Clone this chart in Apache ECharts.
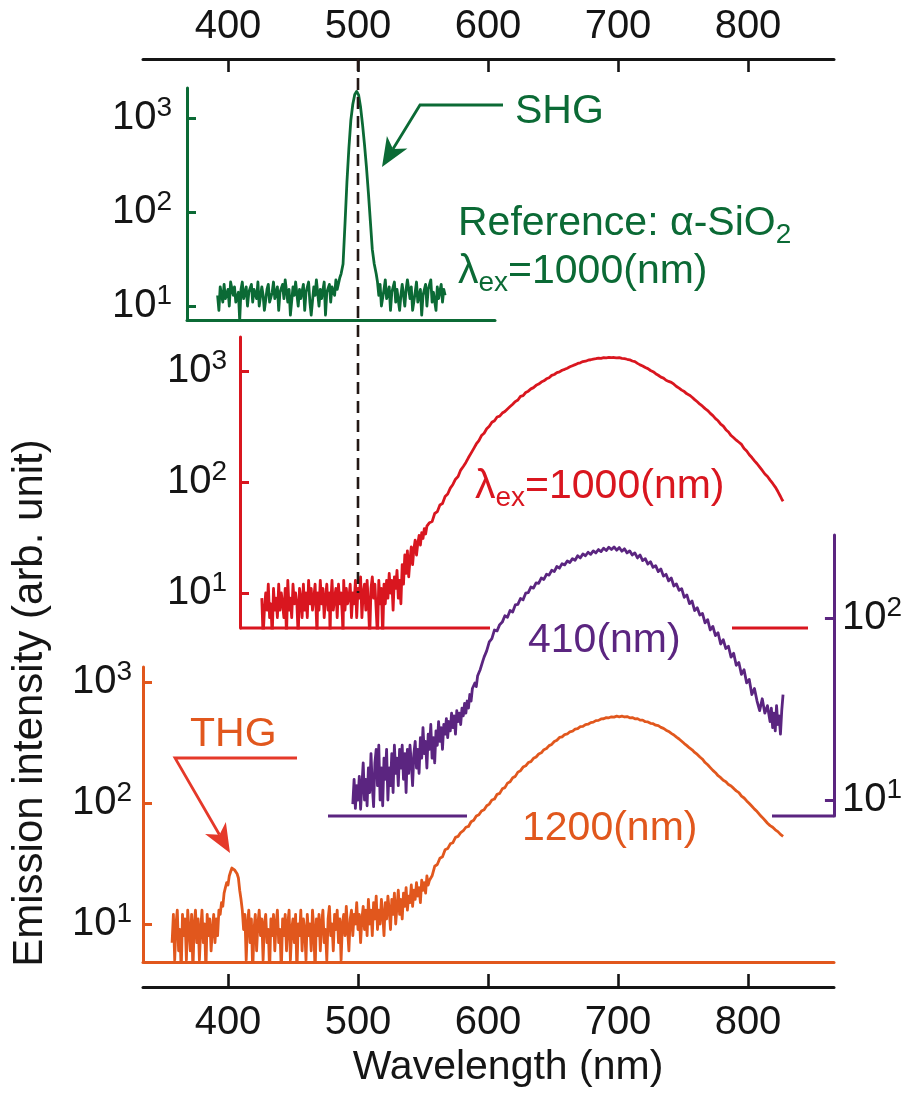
<!DOCTYPE html>
<html><head><meta charset="utf-8">
<script src="https://cdn.jsdelivr.net/npm/echarts@6/dist/echarts.min.js"></script>
<style>html,body{margin:0;padding:0;background:#fff}#c{width:905px;height:1093px}</style>
</head><body><div id="c"></div>
<script>
// ---------------- DATA ----------------
const xTicks = [400, 500, 600, 700, 800];
const yTicksLeft = [10, 100, 1000];
const yTicksPurple = [10, 100];
const shgWavelength = 500;

// SHG reference (alpha-SiO2), lambda_ex = 1000 nm : [nm, intensity]
const greenData = [[392,13],[393,9],[394,16],[396,11],[397,17],[398,12],[400,15],[401,10],[402,18],[404,13],[405,16],[406,11],[408,14],[409,7],[410,15],[411,18],[412,12],[414,16],[415,10],[416,14],[418,17],[419,11],[420,15],[422,12],[423,18],[424,10],[426,16],[427,13],[428,9],[430,15],[431,17],[432,11],[434,14],[435,18],[436,12],[438,16],[439,9],[440,14],[442,17],[443,12],[444,19],[446,11],[447,15],[448,8],[450,16],[451,13],[452,18],[454,10],[455,15],[456,12],[458,17],[459,9],[460,14],[462,18],[463,11],[464,8],[466,16],[467,13],[468,19],[470,10],[471,15],[472,12],[474,18],[475,8],[476,14],[478,17],[479,11],[480,16],[482,13],[483,19],[484,15],[486,20],
[487,22],[488.5,28],[490,75],[491.5,210],[493,480],[494.5,950],[496,1400],[497.5,1780],[499,1920],[500.5,1750],[502,1300],[503.5,850],[505,520],[506.5,300],[508,160],[509.5,80],[511,40],[512.5,28],[514,22],
[515,18],[516,13],[517,17],[518,10],[520,15],[521,19],[522,12],[524,16],[525,9],[526,14],[528,18],[529,11],[530,15],[532,9],[533,13],[534,17],[536,10],[537,15],[538,19],[540,12],[541,16],[542,9],[544,14],[545,18],[546,11],[548,15],[549,8],[550,13],[552,17],[553,10],[554,15],[556,19],[557,11],[558,14],[560,9],[561,16],[562,12],[564,17],[565,11],[566,15],[567,13]];

// lambda_ex = 1000 nm
const redData = [[426,9],[427,4],[428,7],[429,10],[430,7],[431,12],[432,6],[433,8],[434,4],[435,11],[436,7],[437,9],[438,6],[439,12],[440,7],[441,10],[442,8],[443,6],[444,11],[445,4],[446,13],[447,7],[448,9],[449,6],[450,12],[451,8],[452,10],[453,8],[454,4],[455,11],[456,9],[457,6],[458,12],[459,7],[460,10],[461,6],[462,13],[463,8],[464,11],[465,7],[466,9],[467,12],[468,6],[468.5,4],[469,10],[470,7],[471,13],[472,8],[473,11],[474,6],[475,9],[476,12],[477,7],[478,10],[478.5,4],[479,8],[480,13],[481,7],[482,9],[483,11],[484,6],[485,12],[486,8],[487,10],[488,6],[488.5,4],[489,13],[490,7],[491,11],[492,8],[493,9],[494,12],[495,6],[496,10],[497,8],[498,13],[499,6],[500,11],[501,9],[502,14],[503,6],[504,10],[505,12],[506,7],[507,13],[508,8],[509,4],[510,11],[511,14],[512,9],[513,12],[514,7],[515,4],[516,13],[517,8],[518,11],[519,4],[520,12],[521,8],[522,13],[523,9],[524,15],[525,10],[526,13],[527,7],[528,14],[529,11],[530,16],[531,9],[532,13],
[533,8],[534,18],[535,12],[536,22],[537,15],[538,24],[539,14],[540,20],[541,26],[542,18],[543,25],[544,30],[545,22],[546,28],[547,33],[548,27],[549,35],[550,31],[551,38],[552,34],[553,40],[555,43],[557,44],[559,52],[561,54],[563,62],[565,64],[567,74],[569,78],[571,88],[573,95],[575,106],[577,112],[579,128],[581,138],[583,150],[585,166],[587,182],[589,200],[591,220],[593,236],[595,262],[597,275],[599,302],[601,318],[603,345],[605,356],[607,385],[609,392],[611,418],[613,432],[615,455],[617,478],[619,502],[621,530],[623,548],[625,590],[627,600],[629,640],[631,658],[633,690],[635,708],[637,742],[639,762],[641,795],[643,815],[645,850],[647,870],[649,912],[651,930],[653,965],[655,980],[657,1015],[659,1035],[661,1060],[663,1090],[665,1115],[667,1140],[669,1170],[671,1185],[673,1215],[675,1225],[677,1250],[679,1262],[681,1280],[683,1290],[685,1305],[687,1300],[689,1318],[691,1312],[693,1325],[695,1318],[697,1322],[699,1310],[701,1318],[703,1300],[705,1292],[707,1275],[709,1262],[711,1230],[713,1212],[715,1170],[717,1135],[719,1110],[721,1075],[723,1050],[725,1010],[727,985],[729,945],[731,915],[733,880],[735,862],[737,825],[739,805],[741,790],[743,760],[745,725],[747,700],[749,672],[751,652],[753,622],[755,605],[757,580],[759,552],[761,528],[763,502],[765,482],[767,458],[769,440],[771,415],[773,396],[775,372],[777,356],[779,332],[781,318],[783,296],[785,282],[787,262],[789,250],[791,238],[793,228],[795,218],[797,200],[799,190],[801,176],[803,166],[805,155],[807,146],[809,136],[811,127],[813,118],[815,112],[817,104],[819,97],[821,90],[823,82],[825,74],[826,70],[827,67]];

// lambda_ex = 410 nm
const purpleData = [[496,9.5],[497,13],[498,9],[499,12],[500,10],[501,13.5],[502,8.9],[503,12],[504,16],[505,10],[506,13],[507,9.3],[508,15],[509,11],[510,18],[511,12],[512,9.2],[513,16],[514,19],[515,12],[516,20],[517,10],[518,15],[519,9.3],[520,17],[521,13],[522,19],[523,10],[524,15],[525,12],[526,18],[527,11],[528,20],[529,14],[530,17],[531,12],[532,19],[533,15],[534,20],[535,13],[536,18],[537,11],[538,19],[539,14],[540,20],[541,16],[542,12],[543,18],[544,21],[545,15],[546,19],[547,14],[548,22],[549,17],[550,25],[551,18],[552,21],[553,15],[554,23],[555,19],[556,26],[557,17],[558,22],[559,16],[560,24],[561,20],[562,27],[563,21],[564,25],[565,19],[566,26],[567,23],[568,28],[569,22],[570,27],[571,24],[572,30],[573,25],[574,29],[575,23],[576,31],[577,27],[578,30],[579,26],[580,32],[581,29],[582,34],[583,30],[584,35],[585,32],[586,38],[587,35],[588,41],[589,40],[590,44],[591,42],[592,48],[593,50],[594,52],[595,55],[596,58],[597,61],[599,66],[601,74],[603,77],[605,86],[607,85],[609,92],[611,95],[613,103],[615,101],[617,110],[619,108],[621,118],[623,119],[625,128],[627,126],[629,137],[631,138],[633,148],[635,146],[637,156],[639,155],[641,166],[643,163],[645,174],[647,172],[649,183],[651,180],[653,192],[655,188],[657,199],[659,196],[661,206],[663,202],[665,212],[667,208],[669,220],[671,214],[673,225],[675,220],[677,230],[679,224],[681,234],[683,228],[685,238],[687,232],[689,242],[691,235],[693,245],[695,238],[697,246],[699,236],[701,244],[703,233],[705,240],[707,228],[709,234],[711,222],[713,228],[715,214],[717,222],[719,207],[721,212],[723,198],[725,204],[727,190],[729,194],[731,180],[733,186],[735,170],[737,174],[739,160],[741,166],[743,150],[745,154],[747,142],[749,145],[751,130],[753,134],[755,120],[757,124],[759,110],[761,114],[763,104],[765,106],[767,94],[769,98],[771,86],[773,90],[775,80],[777,83],[779,72],[781,76],[783,68],[785,70],[787,61],[789,64],[791,55],[793,57],[795,49],[797,52],[799,44],[801,46],[803,38],[805,41],[807,35],[809,31],[811,36],[813,30],[815,33],[817,27],[818,32],[819,25],[820,30],[821,24],[822,33],[823,26],[824,29],[825,23],[826,31],[827,38]];

// lambda_ex = 1200 nm (with THG peak)
const orangeData = [[357,7],[358,12],[359,5],[360,10],[361,13],[362,6],[363,9],[364,4],[365,12],[366,8],[367,11],[368,5],[369,13],[370,9],[371,6],[372,12],[373,4],[374,10],[375,13],[376,7],[377,11],[378,5],[379,9],[380,13],[381,7],[382,10],[383,4],[384,12],[385,8],[386,11],[387,6],[388,9],[389,12],[390,7],[391,11],[392,8],[393,13],[394,12],[395,15],[396,14],[397,18],[398,20],[399,22],[400,21],[401,25],[402,27],[403,29],[404,30],[405,28],[406,29],[407,26],[408,24],[409,19],[410,16],[411,13],[412,9],[413,12],[414,5],[415,10],[416,13],[417,7],[418,11],[419,4],[420,9],[421,12],[422,6],[423,10],[424,13],[425,8],[426,11],[427,5],[428,10],[429,12],[430,7],[431,9],[432,4],[433,11],[434,8],[435,12],[436,6],[437,10],[438,13],[439,7],[440,9],[441,4],[442,11],[443,8],[444,12],[445,6],[446,10],[447,13],[448,5],[449,9],[450,11],[451,7],[452,12],[453,4],[454,10],[455,8],[456,13],[457,6],[458,11],[459,9],[460,5],[461,12],[462,8],[463,10],[464,6],[465,13],[466,9],[467,4],[468,11],[469,8],[470,12],[471,6],[472,10],[473,13],[474,7],[475,9],[476,5],[477,11],[478,14],[479,8],[480,10],[481,6],[482,12],[483,9],[484,13],[485,7],[486,11],[487,5],[488,10],[489,12],[490,8],[491,14],[492,9],[493,6],[494,11],[495,13],[496,8],[497,12],[498,10],[499,15],[500,9],[501,12],[502,7],[503,11],[504,14],[505,9],[506,13],[507,8],[508,16],[509,10],[510,13],[511,8],[512,15],[513,11],[514,17],[515,9],[516,13],[517,10],[518,16],[519,12],[520,8],[521,15],[522,11],[523,17],[524,13],[525,9],[526,16],[527,12],[528,18],[529,10],[530,14],[531,19],[532,12],[533,16],[534,11],[535,18],[536,14],[537,20],[538,13],[539,17],[540,15],[541,21],[542,14],[543,19],[544,16],[545,22],[546,17],[547,20],[548,15],[549,23],[550,19],[551,22],[552,18],[553,25],[554,21],
[555,23],[557,25],[559,30],[561,31],[563,35],[565,36],[567,41],[569,42],[571,46],[573,47],[575,52],[577,53],[579,57],[581,59],[583,63],[585,64],[587,70],[589,72],[591,78],[593,80],[595,86],[597,88],[599,95],[601,98],[603,106],[605,108],[607,118],[609,120],[611,131],[613,134],[615,146],[617,150],[619,162],[621,166],[623,180],[625,185],[627,198],[629,203],[631,216],[633,220],[635,234],[637,240],[639,254],[641,260],[643,276],[645,282],[647,298],[649,305],[651,322],[653,330],[655,348],[657,352],[659,368],[661,372],[663,388],[665,392],[667,408],[669,412],[671,428],[673,430],[675,445],[677,448],[679,462],[681,466],[683,480],[685,482],[687,495],[689,497],[691,508],[693,506],[695,516],[697,513],[699,522],[701,516],[703,522],[705,514],[707,518],[709,506],[711,508],[713,496],[715,498],[717,484],[719,484],[721,470],[723,468],[725,456],[727,452],[729,440],[731,436],[733,422],[735,414],[737,400],[739,390],[741,376],[743,365],[745,350],[747,338],[749,324],[751,310],[753,298],[755,285],[757,275],[759,262],[761,252],[763,240],[765,230],[767,216],[769,207],[771,196],[773,186],[775,178],[777,168],[779,162],[781,154],[783,150],[785,142],[787,138],[789,132],[791,126],[793,122],[795,114],[797,110],[799,104],[801,99],[803,94],[805,89],[807,85],[809,80],[811,76],[813,72],[815,68],[817,65],[819,63],[821,60],[823,58],[825,55],[827,53]];

// ---------------- LAYOUT / STYLE ----------------
const FONT = '"Liberation Sans", Arial, Helvetica, sans-serif';
const C = {green:'#0b6a35', red:'#d9161f', purple:'#5b2580', orange:'#e1571d', arrowRed:'#e5392a', black:'#151515'};
const nmAt = px => 500 + (px - 358) / 1.3;   // pixel -> wavelength used for axis extents
const AXW = 3, DATAW = 2.8, ANNO = 41;

const G = {
  frame:  {left:143, top:59,  width:691, height:928},
  green:  {left:187, top:88,  width:308, height:232},
  red:    {left:240, top:337, width:568, height:291},
  purple: {left:328, top:535, width:506, height:281},
  orange: {left:143, top:667, width:691, height:295}
};

const rich = {
  b: {fontSize:40, fontFamily:FONT, color:C.black},
  s: {fontSize:28, fontFamily:FONT, color:C.black, padding:[0,0,20,0]}
};
function supLabel(v){ return '{b|10}{s|' + Math.round(Math.log10(v)) + '}'; }

function logAxis(grid, min, max, color, pos, ticks, margin){
  return {type:'log', logBase:10, gridIndex:grid, min:min, max:max, position:pos,
    axisLine:{show:true, onZero:false, lineStyle:{color:color, width:AXW}},
    axisTick:{show:true, inside:true, length:9, lineStyle:{color:color, width:AXW}, customValues:ticks},
    axisLabel:{show:true, customValues:ticks, margin:margin, fontSize:40, fontFamily:FONT, formatter:supLabel, rich:rich},
    splitLine:{show:false}, minorTick:{show:false}, minorSplitLine:{show:false}};
}
function plainX(grid, lpx, rpx, color){
  return {type:'value', gridIndex:grid, min:nmAt(lpx), max:nmAt(rpx),
    show: !!color,
    axisLine:{show:!!color, onZero:false, lineStyle:{color:color||'#000', width:AXW}},
    axisTick:{show:false}, axisLabel:{show:false}, splitLine:{show:false}};
}
function frameX(pos, margin){
  return {type:'value', gridIndex:0, position:pos, min:nmAt(143), max:nmAt(834),
    axisLine:{show:true, onZero:false, lineStyle:{color:C.black, width:3}},
    axisTick:{show:true, inside:true, length:13, lineStyle:{color:C.black, width:2.6}, customValues:xTicks},
    axisLabel:{show:true, customValues:xTicks, margin:margin, fontSize:40, fontFamily:FONT, color:C.black},
    splitLine:{show:false}};
}
function lineSeries(name, data, xi, yi, color){
  return {name:name, type:'line', data:data, xAxisIndex:xi, yAxisIndex:yi, showSymbol:false, symbol:'none',
    clip:true, lineStyle:{color:color, width:DATAW, join:'round'}, itemStyle:{color:color}, animation:false, silent:true};
}

const chart = echarts.init(document.getElementById('c'), null, {renderer:'canvas'});
chart.setOption({
  animation:false,
  backgroundColor:'#fff',
  grid:[G.frame, G.green, G.red, G.purple, G.orange].map(g => Object.assign({containLabel:false}, g)),
  xAxis:[
    frameX('top', 12),
    frameX('bottom', 16),
    plainX(1, 187, 495, C.green),
    plainX(2, 240, 808, null),
    plainX(3, 328, 834, null),
    plainX(4, 143, 834, C.orange)
  ],
  yAxis:[
    {type:'value', gridIndex:0, min:0, max:1, show:false},
    logAxis(1, 7.1, 2085, C.green, 'left', yTicksLeft, 15),
    logAxis(2, 4.84, 2023, C.red, 'left', yTicksLeft, 13),
    logAxis(3, 8.17, 286, C.purple, 'right', yTicksPurple, 8),
    logAxis(4, 4.85, 1331, C.orange, 'left', yTicksLeft, 11)
  ],
  series:[
    {type:'line', xAxisIndex:0, yAxisIndex:0, data:[]},
    lineSeries('SHG reference', greenData, 2, 1, C.green),
    lineSeries('1000 nm', redData, 3, 2, C.red),
    lineSeries('410 nm', purpleData, 4, 3, C.purple),
    lineSeries('1200 nm', orangeData, 5, 4, C.orange)
  ]
});

// ---------------- ANNOTATIONS ----------------
function txt(x, y, text, color){
  return {type:'text', x:x, y:y, silent:true, z:10,
    style:{text:text, fill:color, font:ANNO + 'px ' + FONT, fontSize:ANNO, fontFamily:FONT,
      textAlign:'left', align:'left', textVerticalAlign:'middle', verticalAlign:'middle',
      rich:{
        n:{fontSize:ANNO, fontFamily:FONT, fill:color, color:color},
        sub:{fontSize:28, fontFamily:FONT, fill:color, color:color, padding:[22,0,0,0]}
      }}};
}
function arrowGraphics(pts, color){
  const n = pts.length, tip = pts[n-1], prev = pts[n-2];
  const dx = tip[0]-prev[0], dy = tip[1]-prev[1], L = Math.hypot(dx, dy);
  const ux = dx/L, uy = dy/L, px = -uy, py = ux;
  const hl = 29, hw = 12, nb = 21;
  const base = [tip[0]-hl*ux, tip[1]-hl*uy];
  const notchPt = [tip[0]-nb*ux, tip[1]-nb*uy];
  return [
    {type:'polyline', silent:true, z:10, shape:{points:pts.slice(0, n-1).concat([notchPt])},
      style:{stroke:color, lineWidth:2.8, fill:null}},
    {type:'polygon', silent:true, z:10, shape:{points:[tip,[base[0]+hw*px, base[1]+hw*py], notchPt,[base[0]-hw*px, base[1]-hw*py]]},
      style:{fill:color}}
  ];
}
function hline(x1, x2, y, color){
  return {type:'line', silent:true, z:5, shape:{x1:x1, y1:y, x2:x2, y2:y}, style:{stroke:color, lineWidth:AXW}};
}

const dashX = chart.convertToPixel({xAxisIndex:0}, shgWavelength);
const dashBottom = chart.convertToPixel({xAxisIndex:3, yAxisIndex:2}, [shgWavelength, 10])[1];

const graphics = [
  {type:'line', silent:true, z:4, shape:{x1:dashX, y1:G.frame.top, x2:dashX, y2:dashBottom},
    style:{stroke:'#231815', lineWidth:2.6, lineDash:[12,7]}},
  // broken baselines of the red and purple panels
  hline(240, 490, 628, C.red), hline(732, 808, 628, C.red),
  hline(328, 467, 816, C.purple), hline(772, 834, 816, C.purple),
  txt(515, 112, 'SHG', C.green),
  txt(458, 224, '{n|Reference: α-SiO}{sub|2}', C.green),
  txt(458, 272, '{n|λ}{sub|ex}{n|=1000(nm)}', C.green),
  txt(475, 487, '{n|λ}{sub|ex}{n|=1000(nm)}', C.red),
  txt(528, 641, '410(nm)', C.purple),
  txt(522, 829, '1200(nm)', C.orange),
  txt(190, 735, 'THG', C.orange),
  {type:'text', x:30, y:703, rotation:Math.PI/2, silent:true,
    style:{text:'Emission intensity (arb. unit)', fill:C.black, font:'42px ' + FONT, fontSize:42, fontFamily:FONT,
      textAlign:'center', align:'center', textVerticalAlign:'middle', verticalAlign:'middle'}},
  {type:'text', x:508, y:1068, silent:true,
    style:{text:'Wavelength (nm)', fill:C.black, font:'41px ' + FONT, fontSize:41, fontFamily:FONT,
      textAlign:'center', align:'center', textVerticalAlign:'middle', verticalAlign:'middle'}}
].concat(arrowGraphics([[503,105],[420,105],[382,167]], C.green))
 .concat(arrowGraphics([[297,758],[175,758],[230,853]], C.arrowRed));

chart.setOption({graphic:{elements:graphics}});
</script>
</body></html>
